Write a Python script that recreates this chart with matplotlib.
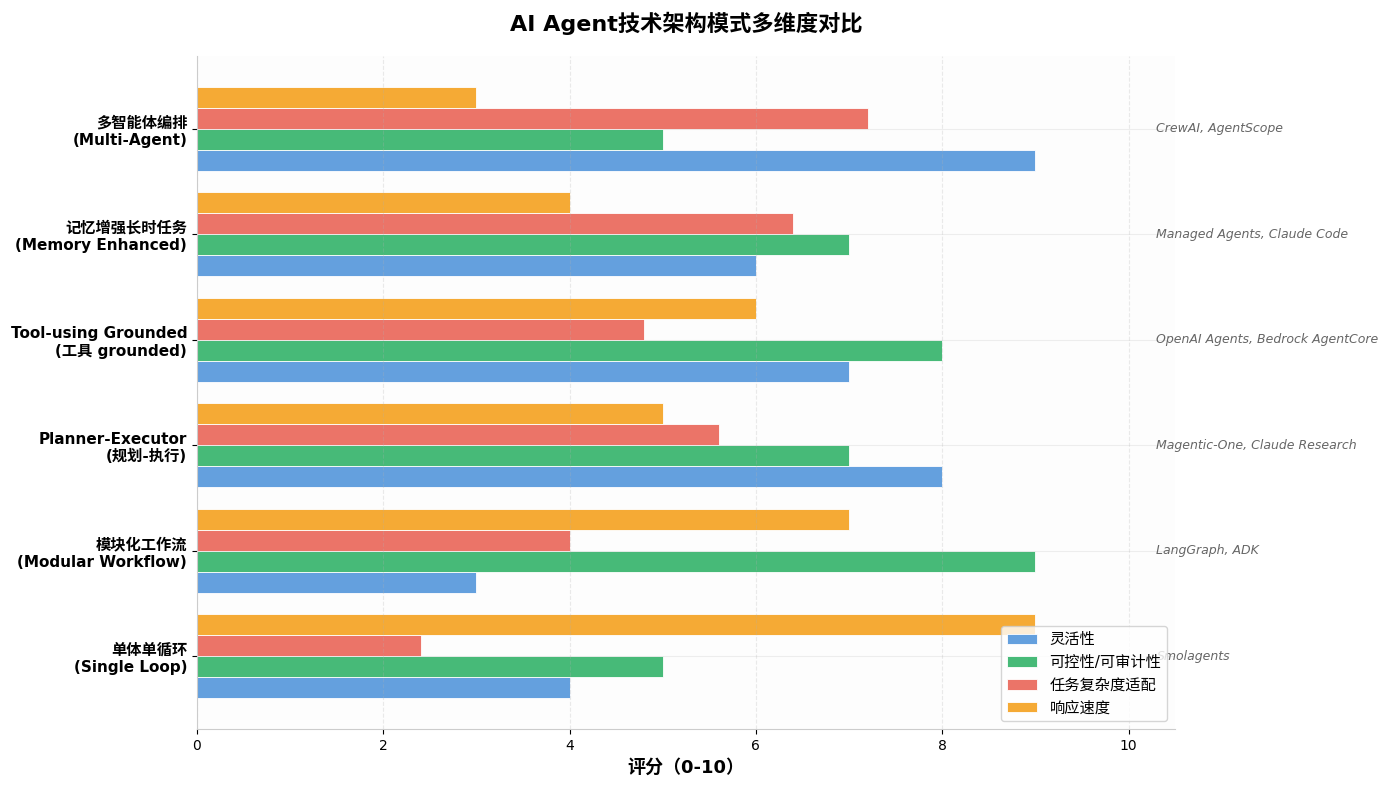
import numpy as np
import matplotlib.pyplot as plt

plt.rcParams['font.family'] = ['DejaVu Sans', 'Noto Sans CJK SC']

categories = [
    "单体单循环\n(Single Loop)",
    "模块化工作流\n(Modular Workflow)",
    "Planner-Executor\n(规划-执行)",
    "Tool-using Grounded\n(工具 grounded)",
    "记忆增强长时任务\n(Memory Enhanced)",
    "多智能体编排\n(Multi-Agent)",
]
examples = [
    "Smolagents",
    "LangGraph, ADK",
    "Magentic-One, Claude Research",
    "OpenAI Agents, Bedrock AgentCore",
    "Managed Agents, Claude Code",
    "CrewAI, AgentScope",
]
series_names = ["灵活性", "可控性/可审计性", "任务复杂度适配", "响应速度"]
flexibility = [4, 3, 8, 7, 6, 9]
controllability = [5, 9, 7, 8, 7, 5]
complexity_fit = [2.4, 4, 5.6, 4.8, 6.4, 7.2]
speed = [9, 7, 5, 6, 4, 3]
colors = ['#64A0DE', '#47BA78', '#EB7468', '#F5AA35']

fig, ax = plt.subplots(figsize=(13.89, 7.86), dpi=100)
fig.subplots_adjust(left=0.1418, right=0.846, top=0.9288, bottom=0.0725)
ax.set_facecolor('#fdfdfd')

y = np.arange(len(categories))
h = 0.2
all_series = [flexibility, controllability, complexity_fit, speed]
for i, (vals, name, c) in enumerate(zip(all_series, series_names, colors)):
    ax.barh(y + (i - 1.5) * h, vals, height=h, color=c,
            edgecolor='white', linewidth=0.6, label=name)

# example frameworks to the right of each group
for yi, ex in zip(y, examples):
    ax.text(10.3, yi, ex, fontsize=9, style='italic', color='#666666',
            va='center', ha='left', clip_on=False)

ax.set_yticks(y)
ax.set_yticklabels(categories, fontsize=11, fontweight='bold')
ax.set_xlim(0, 10.5)
ax.set_xlabel("评分（0-10）", fontsize=13, fontweight='bold')
ax.set_title("AI Agent技术架构模式多维度对比", fontsize=16, fontweight='bold', pad=18)

ax.grid(axis='x', linestyle='--', alpha=0.25)
ax.grid(axis='y', linestyle='-', alpha=0.2)
for side in ['top', 'right']:
    ax.spines[side].set_visible(False)
for side in ['left', 'bottom']:
    ax.spines[side].set_color('#cccccc')

ax.legend(loc='lower right', fontsize=11)

plt.savefig('out.png')
